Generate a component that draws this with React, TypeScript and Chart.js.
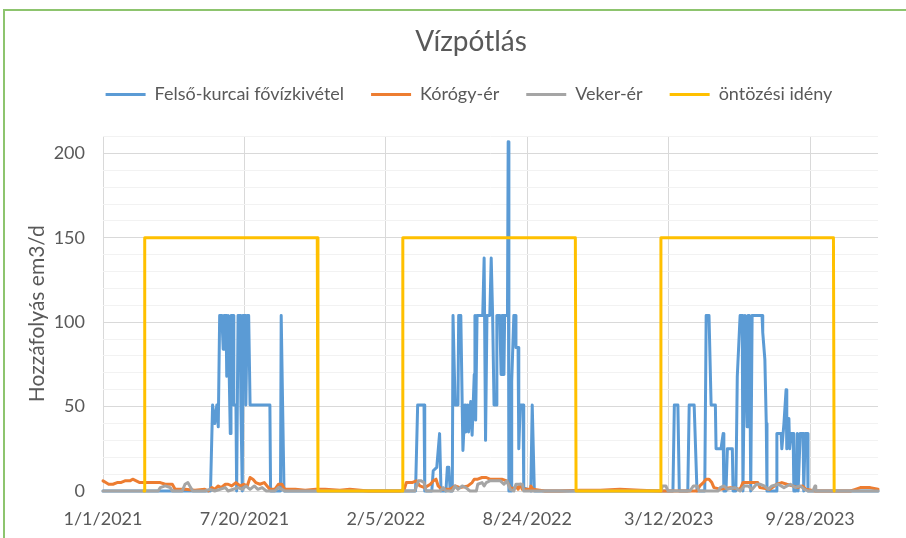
import React, { useEffect, useRef } from "react";
import { Chart, registerables } from "chart.js";

Chart.register(...registerables);

// ---- data (x = days since 1/1/2021, y = em3/d) ----
const seriesNames = ["Felső-kurcai fővízkivétel", "Kórógy-ér", "Veker-ér", "öntözési idény"];
const chartTitle = "Vízpótlás";
const yAxisTitle = "Hozzáfolyás em3/d";
const xStepDays = 200;
const xMaxDay = 1096;
const yMax = 210;

const felsoKurcai: [number, number][] = [
  [0, 0], [152, 0], [155, 51], [158, 40], [161, 51], [163, 38], [165, 104], [168, 104], [170, 84], [171, 104],
  [174, 104], [175, 68], [177, 104], [178, 104], [180, 34], [181, 104], [184, 104], [185, 51], [188, 51], [189, 0],
  [191, 104], [194, 104], [195, 51], [197, 0], [198, 104], [201, 104], [202, 51], [204, 104], [206, 104], [208, 51],
  [236, 51], [237, 0], [251, 0], [252, 104], [253, 104], [254, 51], [256, 0],
  [442, 0], [445, 51], [454, 51], [455, 0], [465, 0], [467, 12], [472, 14], [476, 34], [478, 0],
  [485, 0], [487, 14], [489, 14], [491, 0], [494, 0], [495, 104], [496, 104], [498, 51], [502, 51], [503, 104],
  [506, 104], [509, 24], [512, 51], [513, 35], [516, 51], [517, 35], [520, 53], [522, 33], [525, 69], [526, 104],
  [527, 42], [529, 104], [537, 104], [539, 138], [540, 138], [541, 30], [543, 104], [547, 104], [549, 138], [550, 138],
  [551, 104], [553, 51], [556, 51], [557, 104], [561, 104], [563, 69], [564, 104], [566, 104], [567, 69], [568, 104],
  [572, 104], [573, 207], [574, 0], [577, 0], [578, 65], [581, 104], [583, 104], [584, 85], [587, 85], [588, 25],
  [590, 51], [594, 51], [595, 2], [605, 0], [607, 51], [608, 51], [610, 0],
  [806, 0], [808, 51], [813, 51], [815, 0], [827, 0], [829, 51], [836, 51], [840, 0], [851, 0], [853, 104],
  [857, 104], [860, 51], [866, 51], [867, 25], [874, 25], [877, 34], [878, 0], [881, 0], [883, 25], [890, 25],
  [891, 0], [895, 0], [897, 68], [898, 68], [901, 104], [904, 104], [905, 0], [908, 104], [909, 104], [911, 38],
  [912, 104], [914, 104], [915, 60], [916, 0], [918, 104], [932, 104], [933, 94], [936, 78], [938, 40], [939, 0],
  [952, 0], [953, 34], [959, 34], [960, 25], [963, 40], [966, 60], [967, 25], [970, 43], [971, 25], [973, 34],
  [976, 34], [977, 0], [980, 0], [982, 34], [983, 0], [986, 34], [990, 34], [991, 0], [993, 34], [996, 34],
  [997, 0], [1096, 0],
];

const korogyEr: [number, number][] = [
  [0, 6], [4, 5], [8, 4], [14, 4], [20, 5], [25, 5], [31, 6], [38, 6], [42, 7], [47, 6], [52, 5], [66, 5], [81, 5],
  [88, 4], [98, 4], [102, 1], [116, 1], [130, 0.5], [144, 1], [149, 0], [154, 2], [158, 1], [163, 3], [167, 2],
  [173, 4], [177, 4], [182, 3], [188, 5], [194, 3], [199, 4], [204, 3], [208, 8], [212, 7], [216, 5], [222, 4],
  [228, 5], [232, 3], [236, 1], [243, 1], [248, 4], [253, 4], [257, 1], [272, 1], [286, 0.5], [301, 1], [314, 1],
  [335, 0.5], [349, 1], [364, 0.5], [375, 0], [420, 0], [426, 1], [429, 5], [437, 5], [443, 6], [448, 3], [455, 2],
  [463, 4], [467, 6], [471, 7], [474, 3], [479, 1], [491, 1], [498, 3], [505, 2], [516, 3], [522, 5], [525, 7],
  [530, 7], [536, 8], [542, 8], [547, 7], [564, 7], [571, 6], [576, 2], [580, 1], [584, 3], [587, 1], [590, 4],
  [593, 1], [604, 1], [605, 3], [608, 1], [625, 0], [646, 0], [675, 0.5], [703, 0.5], [731, 1], [760, 0.5],
  [788, 0], [840, 0], [844, 3], [849, 5], [853, 7], [857, 7], [861, 5], [864, 2], [873, 1], [887, 2], [901, 1],
  [905, 5], [915, 5], [926, 5], [929, 2], [943, 1], [953, 4], [960, 5], [967, 4], [975, 3], [982, 2], [989, 3],
  [994, 1], [1007, 0], [1057, 0], [1064, 1], [1071, 2], [1085, 2], [1096, 1],
];

const vekerEr: [number, number][] = [
  [0, 0], [78, 0], [81, 2], [88, 3], [95, 2], [98, 0], [112, 0], [116, 4], [120, 5], [124, 2], [127, 0], [144, 0],
  [151, 1], [158, 0], [173, 2], [177, 0], [191, 2], [197, 1], [202, 3], [208, 1], [214, 3], [219, 1], [225, 2],
  [231, 0], [243, 0], [248, 2], [253, 1], [257, 0], [441, 0], [446, 6], [450, 6], [454, 5], [457, 0], [477, 0],
  [481, 2], [485, 0], [494, 0], [498, 3], [502, 1], [508, 3], [513, 2], [519, 0], [528, 0], [530, 4], [536, 5],
  [539, 3], [542, 5], [547, 6], [556, 6], [562, 6], [567, 4], [571, 6], [576, 1], [581, 0], [584, 4], [593, 4],
  [595, 0], [789, 0], [791, 3], [796, 3], [799, 0], [830, 0], [835, 3], [840, 3], [843, 0], [870, 0], [873, 2],
  [878, 3], [883, 1], [894, 2], [901, 0], [907, 3], [912, 3], [918, 1], [924, 4], [929, 4], [935, 3], [941, 1],
  [946, 3], [955, 4], [963, 2], [972, 4], [979, 2], [986, 3], [992, 1], [997, 0], [1004, 0], [1007, 3], [1008, 0],
  [1096, 0],
];

const ontozesiIdeny: [number, number][] = [
  [58, 0], [59, 150], [303, 150], [304, 0], [423, 0], [424, 150], [668, 150], [669, 0],
  [788, 0], [789, 150], [1033, 150], [1034, 0],
];

const seriesColors = ["#5B9BD5", "#ED7D31", "#A5A5A5", "#FFC000"];

const START_MS = Date.UTC(2021, 0, 1);
function dayLabel(day: number): string {
  const d = new Date(START_MS + day * 86400000);
  return `${d.getUTCMonth() + 1}/${d.getUTCDate()}/${d.getUTCFullYear()}`;
}

export default function App() {
  const ref = useRef<HTMLCanvasElement>(null);

  useEffect(() => {
    if (!ref.current) return;
    const family = "Lato, 'Liberation Sans', sans-serif";
    const textColor = "#595959";
    const toXY = (a: [number, number][]) => a.map(([x, y]) => ({ x, y }));
    const TITLE_SHIFT = 22;
    const LEGEND_SHIFT = 20;
    const LEGEND_EXTRA = 23;

    const layoutPlugin = {
      id: "layoutTweaks",
      afterInit(chart: any) {
        const lg = chart.legend;
        if (lg && !lg.__patched) {
          const fit = lg.fit.bind(lg);
          lg.fit = function () {
            fit();
            this.height += LEGEND_EXTRA;
          };
          lg.__patched = true;
        }
      },
      afterLayout(chart: any) {
        const t = chart.titleBlock;
        if (t) {
          t.left += TITLE_SHIFT;
          t.right += TITLE_SHIFT;
        }
        const l = chart.legend;
        if (l) {
          l.left += LEGEND_SHIFT;
          l.right += LEGEND_SHIFT;
        }
      },
    };

    const datasets = [felsoKurcai, korogyEr, vekerEr, ontozesiIdeny].map((d, i) => ({
      label: seriesNames[i],
      data: toXY(d),
      borderColor: seriesColors[i],
      backgroundColor: seriesColors[i],
      borderWidth: 3,
      pointRadius: 0,
      pointHoverRadius: 0,
      tension: 0,
      borderJoinStyle: "round" as const,
      borderCapStyle: "round" as const,
      order: 4 - i,
      clip: 6,
    }));

    const chart = new Chart(ref.current, {
      type: "line",
      data: { datasets },
      plugins: [layoutPlugin],
      options: {
        responsive: false,
        animation: false,
        events: [],
        layout: { padding: { left: 20, right: 28, top: 0, bottom: 0 } },
        plugins: {
          title: {
            display: true,
            text: chartTitle,
            color: textColor,
            font: { family, size: 28, weight: "normal" },
            padding: { top: 25, bottom: 0 },
          },
          legend: {
            display: true,
            position: "top",
            labels: {
              boxWidth: 40,
              boxHeight: 3,
              padding: 27,
              color: textColor,
              font: { family, size: 18 },
              sort: (a: any, b: any) => a.datasetIndex - b.datasetIndex,
              generateLabels: (c: any) =>
                (Chart.defaults.plugins.legend.labels.generateLabels as any)(c).map((l: any) => ({
                  ...l,
                  lineWidth: 0,
                  fillStyle: l.strokeStyle,
                })),
            },
          },
          tooltip: { enabled: false },
        },
        scales: {
          x: {
            type: "linear",
            min: 0,
            max: xMaxDay,
            ticks: {
              stepSize: xStepDays,
              autoSkip: false,
              maxRotation: 0,
              padding: 17,
              color: textColor,
              font: { family, size: 18 },
              callback: (v: any) => dayLabel(Number(v)),
            },
            grid: { color: "#D9D9D9", drawTicks: false, lineWidth: 1 },
            border: { display: true, color: "#D9D9D9", width: 1 },
            afterBuildTicks: (s: any) => {
              s.ticks = s.ticks.filter((t: any) => t.value % xStepDays === 0);
            },
            afterFit: (s: any) => {
              s.height = 47;
            },
          },
          y: {
            type: "linear",
            min: 0,
            max: yMax,
            ticks: {
              stepSize: 10,
              autoSkip: false,
              padding: 18,
              color: textColor,
              font: { family, size: 18 },
              callback: (v: any) => (Number(v) % 50 === 0 ? String(v) : ""),
            },
            grid: {
              color: (ctx: any) => (ctx.tick && ctx.tick.value % 50 === 0 ? "#D9D9D9" : "#F2F2F2"),
              drawTicks: false,
              lineWidth: 1,
            },
            border: { display: false },
            title: {
              display: true,
              text: yAxisTitle,
              color: textColor,
              font: { family, size: 21 },
              padding: { top: 5, bottom: 0 },
            },
            afterFit: (s: any) => {
              s.width = 83;
            },
          },
        },
      },
    } as any);

    return () => chart.destroy();
  }, []);

  return (
    <div
      style={{
        position: "fixed",
        left: 0,
        top: 0,
        width: 906,
        height: 538,
        overflow: "hidden",
        background: "#fff",
      }}
    >
      <div
        style={{
          position: "absolute",
          left: 3,
          top: 9,
          width: 1200,
          height: 1200,
          borderLeft: "2px solid #8DC46E",
          borderTop: "2px solid #8DC46E",
        }}
      />
      <canvas
        ref={ref}
        width={906}
        height={538}
        style={{ position: "absolute", left: 0, top: 0, width: 906, height: 538 }}
      />
    </div>
  );
}
